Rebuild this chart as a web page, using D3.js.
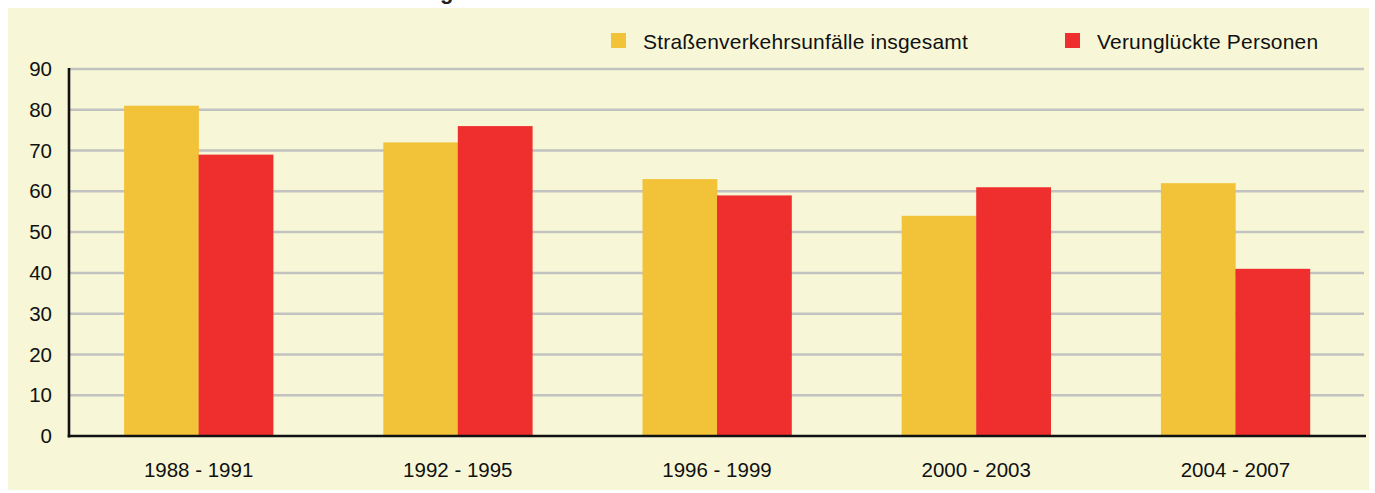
<!DOCTYPE html>
<html><head><meta charset="utf-8">
<script src="https://cdn.jsdelivr.net/npm/d3@7"></script>
<style>
html,body{margin:0;padding:0;background:#fff;}
svg{display:block;font-family:"Liberation Sans",Arial,Helvetica,sans-serif;}
</style></head>
<body>
<svg id="c" width="1375" height="493"></svg>
<script>
const categories = ["1988 - 1991","1992 - 1995","1996 - 1999","2000 - 2003","2004 - 2007"];
const seriesNames = ["Straßenverkehrsunfälle insgesamt","Verunglückte Personen"];
const unfaelle = [81,72,63,54,62];
const verunglueckte = [69,76,59,61,41];
const yTicks = [0,10,20,30,40,50,60,70,80,90];
const colors = ["#f2c338","#ef2f2e"];

(function(){
const svg = d3.select("#c");
// panel background
svg.append("rect").attr("x",8).attr("y",8).attr("width",1361).attr("height",482).attr("fill","#f7f7d7");
// cut-off title descender
svg.append("text").attr("x",440).attr("y",-1.5).attr("font-weight","bold").attr("font-size",22).attr("fill","#222").text("g");

const pL=69, pR=1365, pT=69, pB=436;
const x0 = d3.scaleBand().domain(categories).range([pL,pR]).padding(0);
const barW = 74.5;
const x1 = d3.scaleBand().domain(seriesNames).range([0,barW*2]).padding(0);
const y = d3.scaleLinear().domain([0,90]).range([pB,pT]);

// gridlines
svg.append("g").selectAll("line").data(yTicks.filter(d=>d>0)).join("line")
  .attr("x1",pL).attr("x2",pR-1).attr("y1",d=>y(d)).attr("y2",d=>y(d))
  .attr("stroke","#c2c2c0").attr("stroke-width",2.5);

const data = categories.map((c,i)=>({cat:c, vals:[unfaelle[i],verunglueckte[i]]}));
const g = svg.append("g").selectAll("g").data(data).join("g")
  .attr("transform",d=>`translate(${x0(d.cat)+x0.bandwidth()/2-barW},0)`);
g.selectAll("rect").data(d=>d.vals.map((v,j)=>({v,s:seriesNames[j],j}))).join("rect")
  .attr("x",d=>x1(d.s)).attr("width",x1.bandwidth()+0.3)
  .attr("y",d=>y(d.v)).attr("height",d=>pB-y(d.v))
  .attr("fill",d=>colors[d.j]);

// y axis
const yAxis = d3.axisLeft(y).tickValues(yTicks).tickSize(0).tickPadding(17);
const ya = svg.append("g").attr("transform",`translate(${pL},0)`).call(yAxis);
ya.select(".domain").remove();
ya.selectAll("text").attr("font-size",20.5).attr("fill","#111").attr("font-family","Liberation Sans, Arial, sans-serif");
svg.append("line").attr("x1",pL).attr("x2",pL).attr("y1",pT-1).attr("y2",pB+1.5)
  .attr("stroke","#111").attr("stroke-width",2.6);

// x axis
const xAxis = d3.axisBottom(x0).tickSize(0).tickPadding(26);
const xa = svg.append("g").attr("transform",`translate(0,${pB})`).call(xAxis);
xa.select(".domain").remove();
xa.selectAll("text").attr("font-size",20.5).attr("fill","#111").attr("font-family","Liberation Sans, Arial, sans-serif");
svg.append("line").attr("x1",pL-1.3).attr("x2",pR+1).attr("y1",pB).attr("y2",pB)
  .attr("stroke","#111").attr("stroke-width",2.6);

// legend
const legX = [611,1065];
seriesNames.forEach((n,i)=>{
  svg.append("rect").attr("x",legX[i]).attr("y",33).attr("width",15).attr("height",15).attr("fill",colors[i]);
  svg.append("text").attr("x",legX[i]+32).attr("y",48.5).attr("font-size",21).attr("letter-spacing",0.2).attr("fill","#111").text(n);
});
})();
</script>
</body></html>
